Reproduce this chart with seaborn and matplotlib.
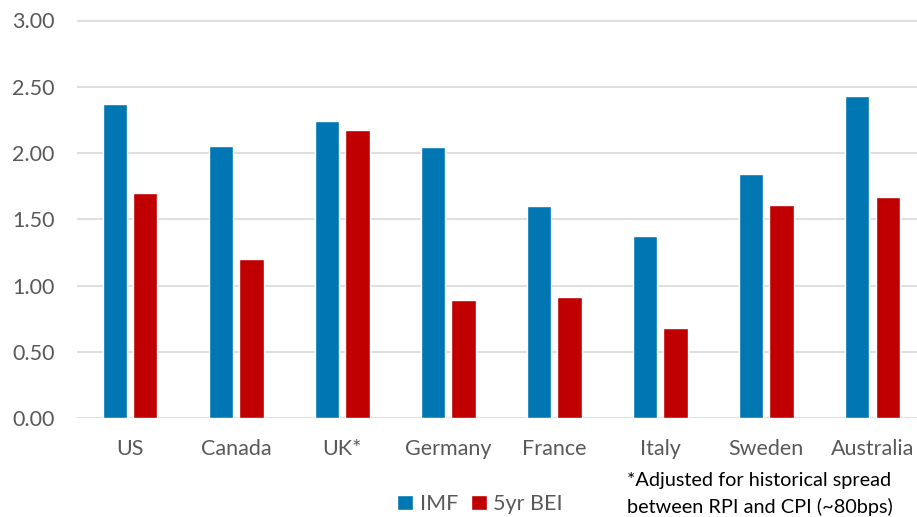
import matplotlib
matplotlib.use("Agg")
import matplotlib.pyplot as plt
import seaborn as sns
import pandas as pd

countries = ["US", "Canada", "UK*", "Germany", "France", "Italy", "Sweden", "Australia"]
imf = [2.37, 2.05, 2.24, 2.045, 1.60, 1.37, 1.845, 2.43]
bei = [1.70, 1.20, 2.17, 0.89, 0.915, 0.68, 1.61, 1.67]
series_names = ["IMF", "5yr BEI"]
yticks = [0.0, 0.5, 1.0, 1.5, 2.0, 2.5, 3.0]
footnote = "*Adjusted for historical spread\nbetween RPI and CPI (~80bps)"

df = pd.DataFrame({
    "country": countries * 2,
    "series": [series_names[0]] * len(countries) + [series_names[1]] * len(countries),
    "value": imf + bei,
})

sns.set_theme(style="white")
plt.rcParams["font.family"] = ["Lato", "DejaVu Sans"]

fig = plt.figure(figsize=(9.17, 5.17), dpi=100)
ax = fig.add_axes([77 / 917, 99 / 517, 848.5 / 917, 397.5 / 517])

palette = {"IMF": "#0077B3", "5yr BEI": "#C00000"}
sns.barplot(data=df, x="country", y="value", hue="series", order=countries,
            hue_order=series_names, palette=palette, width=0.575, gap=0.2,
            saturation=1, ax=ax, legend=True)

ax.set_ylim(0, 3.0)
ax.set_xlim(-0.5, len(countries) - 0.5)
ax.set_yticks(yticks)
ax.set_yticklabels([f"{v:.2f}" for v in yticks])
ax.yaxis.grid(True, color="#D9D9D9", linewidth=1.2)
ax.set_axisbelow(True)
for s in ax.spines.values():
    s.set_visible(False)
ax.tick_params(axis="y", length=0, pad=16, labelsize=15.5, labelcolor="#595959")
ax.tick_params(axis="x", length=0, pad=15, labelsize=15.5, labelcolor="#595959")
ax.set_xlabel("")
ax.set_ylabel("")

leg = ax.legend(loc="center", bbox_to_anchor=(480 / 917, (517 - 504) / 517),
                bbox_transform=fig.transFigure, ncol=2, frameon=False,
                fontsize=15.5, handlelength=0.75, handleheight=0.75,
                handletextpad=0.3, columnspacing=0.6)
for t in leg.get_texts():
    t.set_color("#595959")

fig.text(627 / 917, (517 - 472) / 517, footnote, ha="left", va="top", fontsize=14.3,
         color="#000000", linespacing=1.6)
fig.savefig("out.png", dpi=100)
